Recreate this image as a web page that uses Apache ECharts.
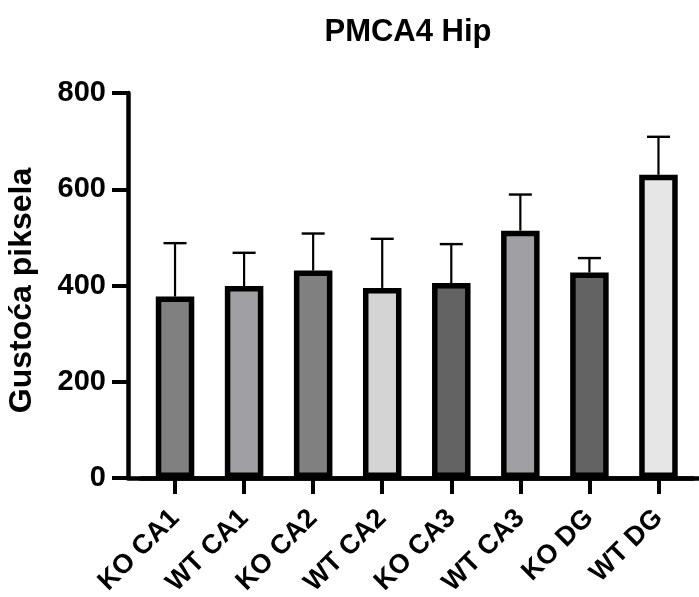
<!DOCTYPE html>
<html>
<head>
<meta charset="utf-8">
<script src="https://cdn.jsdelivr.net/npm/echarts@6/dist/echarts.min.js"></script>
<style>html,body{margin:0;padding:0;background:#fff;}#c{width:699px;height:597px;}</style>
</head>
<body>
<div id="c"></div>
<script>
const categories = ['KO CA1','WT CA1','KO CA2','WT CA2','KO CA3','WT CA3','KO DG','WT DG'];
const means = [377, 399, 431, 395, 405, 514, 427, 630];
const sds = [111, 69, 77, 102, 81, 75, 30, 79];
const barColors = ['#808080','#a0a0a4','#808080','#d4d4d4','#636363','#a0a0a4','#636363','#e6e6e6'];
const yTicks = [0, 200, 400, 600, 800];

const chart = echarts.init(document.getElementById('c'), null, {renderer:'canvas'});
const font = 'Liberation Sans, Arial, sans-serif';
chart.setOption({
  animation: false,
  backgroundColor: '#fff',
  title: {
    text: 'PMCA4 Hip', left: 403, top: 12, textAlign: 'center',
    textStyle: {fontFamily: font, fontWeight: 'bold', fontSize: 31, color: '#000'}
  },
  grid: [
    {left: 140.5, right: 6, top: 93, height: 385, containLabel: false, outerBoundsMode: 'none'},
    {left: 128, right: 0, top: 93, height: 385, containLabel: false, outerBoundsMode: 'none'}
  ],
  xAxis: [
    {
      type: 'category', data: categories, gridIndex: 0,
      axisLine: {show: true, lineStyle: {color: '#000', width: 4.5}},
      axisTick: {show: true, alignWithLabel: true, length: 16, lineStyle: {color: '#000', width: 4}},
      axisLabel: {rotate: 45, margin: 36, fontFamily: font, fontWeight: 'bold', fontSize: 27, color: '#000', interval: 0}
    },
    {
      type: 'value', gridIndex: 1, min: 0, max: 1,
      axisLine: {show: true, onZero: false, lineStyle: {color: '#000', width: 4.5}},
      axisTick: {show: false}, axisLabel: {show: false}, splitLine: {show: false}
    }
  ],
  yAxis: [
    {
      type: 'value', gridIndex: 0, min: 0, max: 800, interval: 200, offset: 12.5,
      name: 'Gustoća piksela', nameLocation: 'middle', nameGap: 90,
      nameTextStyle: {fontFamily: font, fontWeight: 'bold', fontSize: 32, color: '#000', padding: [0, 10, 0, 0]},
      axisLine: {show: true, lineStyle: {color: '#000', width: 4.5}},
      axisTick: {show: true, length: 16, lineStyle: {color: '#000', width: 4}},
      axisLabel: {margin: 22, fontFamily: font, fontWeight: 'bold', fontSize: 29, color: '#000',
        formatter: v => yTicks.includes(v) ? String(v) : ''},
      splitLine: {show: false}
    },
    {
      type: 'value', gridIndex: 1, min: 0, max: 1, show: false
    }
  ],
  series: [
    {
      type: 'custom', xAxisIndex: 0, yAxisIndex: 0, z: 1,
      data: means.map((m, i) => [i, m, m + sds[i]]),
      renderItem: function (params, api) {
        const p0 = api.coord([api.value(0), api.value(1)]);
        const p1 = api.coord([api.value(0), api.value(2)]);
        const cap = 11.5;
        return {
          type: 'group',
          children: [
            {type: 'line', shape: {x1: p0[0], y1: p0[1], x2: p1[0], y2: p1[1]}, style: {stroke: '#000', lineWidth: 2.2}},
            {type: 'line', shape: {x1: p1[0] - cap, y1: p1[1], x2: p1[0] + cap, y2: p1[1]}, style: {stroke: '#000', lineWidth: 2.4}}
          ]
        };
      }
    },
    {
      type: 'bar', xAxisIndex: 0, yAxisIndex: 0, z: 2, barWidth: 38.5,
      data: means.map((m, i) => ({value: m, itemStyle: {color: barColors[i]}})),
      itemStyle: {borderColor: '#000', borderWidth: 5.5}
    }
  ]
});
</script>
</body>
</html>
